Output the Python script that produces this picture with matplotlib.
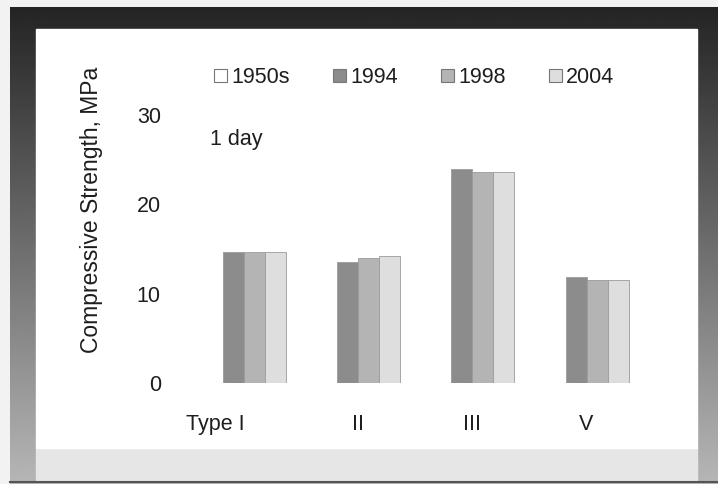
import numpy as np
import matplotlib.pyplot as plt
from matplotlib.patches import Rectangle, Patch

plt.rcParams['font.family'] = ['Liberation Sans', 'DejaVu Sans']

categories = ["Type I", "II", "III", "V"]
series = ["1950s", "1994", "1998", "2004"]
# 1 day strength, no 1950s data at 1 day
values_1950s = [0, 0, 0, 0]
values_1994 = [14.7, 13.5, 24.0, 11.9]
values_1998 = [14.7, 14.0, 23.6, 11.5]
values_2004 = [14.7, 14.2, 23.6, 11.5]
colors = ["#ffffff", "#8c8c8c", "#b4b4b4", "#dedede"]

fig = plt.figure(figsize=(7.18, 4.84), dpi=100)
fig.patch.set_facecolor("#f2f2f2")

# scanned page frame
bg = fig.add_axes([0, 0, 1, 1], zorder=-10)
bg.set_xlim(0, 718)
bg.set_ylim(484, 0)
bg.axis("off")
grad = np.linspace(0, 1, 256).reshape(-1, 1)
bg.imshow(grad, cmap="gray", vmin=-0.25, vmax=1.5, extent=[10, 718, 484, 7], aspect="auto")
bg.add_patch(Rectangle((36, 448), 661, 32, color="#e6e6e6"))
bg.add_patch(Rectangle((36, 29), 661, 419, color="white"))
bg.plot([10, 718], [482, 482], color="#555555", lw=1.5)

ax = fig.add_axes([0.251, 0.2087, 0.655, 0.5537])
ax.set_facecolor("none")

x = np.arange(len(categories))
w = 0.184
all_vals = [values_1950s, values_1994, values_1998, values_2004]
for i, (name, vals) in enumerate(zip(series, all_vals)):
    ax.bar(x + (i - 1.5) * w, vals, w, color=colors[i], edgecolor="#9a9a9a", linewidth=0.6, label=name)

ax.set_xlim(-0.56, 3.56)
ax.set_ylim(0, 30)
ax.set_yticks([0, 10, 20, 30])
ax.tick_params(axis="y", length=0, pad=14, labelsize=15.5, labelcolor="#1e1e1e")
ax.set_xticks(x)
ax.set_xticklabels(categories)
ax.tick_params(axis="x", length=0, pad=22, labelsize=15.5, labelcolor="#1e1e1e")
ax.get_xticklabels()[0].set_horizontalalignment("right")
for s in ax.spines.values():
    s.set_visible(False)
ax.axhline(0, color="#aaaaaa", lw=0.8, ls=":")

fig.text(92 / 718, 1 - 210 / 484, "Compressive Strength, MPa", rotation=90, fontsize=16.5,
         color="#1e1e1e", ha="center", va="center")
ax.text(0.064, 27.3, "1 day", fontsize=15.5, color="#1e1e1e", va="center",
        transform=ax.get_yaxis_transform())

handles = [Patch(facecolor=c, edgecolor="#777777", linewidth=0.8) for c in colors]
fig.legend(handles, series, loc="center", bbox_to_anchor=(0.577, 0.84), ncol=4, frameon=False,
           fontsize=15.5, handlelength=0.6, handleheight=0.6, handletextpad=0.2, columnspacing=2.0,
           labelcolor="#1e1e1e")

fig.savefig("out.png", dpi=100)
